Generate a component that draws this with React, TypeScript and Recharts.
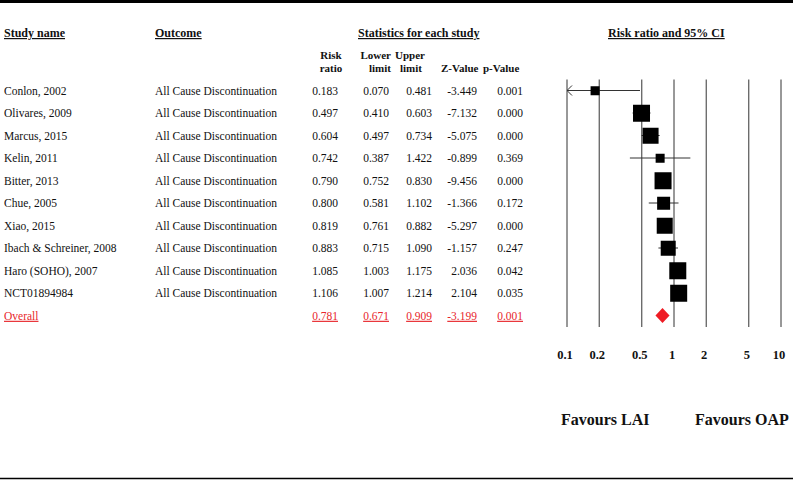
import React from 'react';
import {
  ComposedChart,
  Bar,
  Line,
  XAxis,
  YAxis,
  ReferenceLine,
} from 'recharts';

const studies = [
  'Conlon, 2002',
  'Olivares, 2009',
  'Marcus, 2015',
  'Kelin, 2011',
  'Bitter, 2013',
  'Chue, 2005',
  'Xiao, 2015',
  'Ibach & Schreiner, 2008',
  'Haro (SOHO), 2007',
  'NCT01894984',
  'Overall',
];
const outcomes = [
  'All Cause Discontinuation',
  'All Cause Discontinuation',
  'All Cause Discontinuation',
  'All Cause Discontinuation',
  'All Cause Discontinuation',
  'All Cause Discontinuation',
  'All Cause Discontinuation',
  'All Cause Discontinuation',
  'All Cause Discontinuation',
  'All Cause Discontinuation',
  '',
];
const riskRatio = [0.183, 0.497, 0.604, 0.742, 0.79, 0.8, 0.819, 0.883, 1.085, 1.106, 0.781];
const lowerLimit = [0.07, 0.41, 0.497, 0.387, 0.752, 0.581, 0.761, 0.715, 1.003, 1.007, 0.671];
const upperLimit = [0.481, 0.603, 0.734, 1.422, 0.83, 1.102, 0.882, 1.09, 1.175, 1.214, 0.909];
const zValue = [-3.449, -7.132, -5.075, -0.899, -9.456, -1.366, -5.297, -1.157, 2.036, 2.104, -3.199];
const pValue = [0.001, 0.0, 0.0, 0.369, 0.0, 0.172, 0.0, 0.247, 0.042, 0.035, 0.001];
// relative study weight (box size), overall row has none
const studyWeight = [9, 17, 16, 9, 17, 13, 16, 15, 17, 17, null];
const axisTicks = [0.1, 0.2, 0.5, 1, 2, 5, 10];

const MIN_X = 0.1;
const MAX_X = 10;
const FONT = '"Liberation Serif", "Times New Roman", serif';
const RED = '#e8262b';

const rows = studies.map((study, i) => {
  const isOverall = study === 'Overall';
  return {
    study,
    outcome: outcomes[i],
    rr: riskRatio[i],
    lower: lowerLimit[i],
    upper: upperLimit[i],
    z: zValue[i],
    p: pValue[i],
    isOverall,
    weight: studyWeight[i],
    square: isOverall ? null : riskRatio[i],
    clipped: lowerLimit[i] < MIN_X,
    ci: [Math.max(lowerLimit[i], MIN_X), Math.min(upperLimit[i], MAX_X)],
  };
});

// table columns drawn beside each category tick
const RowTick = (props: any) => {
  const { y, payload } = props;
  const row = rows.find((r) => r.study === payload.value);
  if (!row) return null;
  const color = row.isOverall ? RED : '#111';
  const deco = row.isOverall ? 'underline' : 'none';
  const common = {
    y,
    dy: '0.35em',
    fontSize: 11.5,
    fontFamily: FONT,
    fill: color,
    textDecoration: deco,
  };
  return (
    <g>
      <text x={4} {...common}>{row.study}</text>
      {row.outcome && <text x={155} {...common}>{row.outcome}</text>}
      <text x={338} textAnchor="end" {...common}>{row.rr.toFixed(3)}</text>
      <text x={389} textAnchor="end" {...common}>{row.lower.toFixed(3)}</text>
      <text x={432} textAnchor="end" {...common}>{row.upper.toFixed(3)}</text>
      <text x={477} textAnchor="end" {...common}>{row.z.toFixed(3)}</text>
      <text x={523} textAnchor="end" {...common}>{row.p.toFixed(3)}</text>
    </g>
  );
};

const ScaleTick = (props: any) => {
  const { x, y, payload } = props;
  return (
    <text
      x={x - 2}
      y={y + 24}
      textAnchor="middle"
      fontSize={12.5}
      fontWeight="bold"
      fontFamily={FONT}
      fill="#111"
    >
      {String(payload.value)}
    </text>
  );
};

const CiShape = (props: any) => {
  const { x, y, width, height, payload } = props;
  const cy = y + height / 2;
  if (payload.isOverall) {
    const pts = `${x},${cy} ${x + width / 2},${cy - 7.5} ${x + width},${cy} ${x + width / 2},${cy + 7.5}`;
    return <polygon points={pts} fill="#ee1c24" />;
  }
  return (
    <g>
      <line x1={x} x2={x + width} y1={cy} y2={cy} stroke="#333" strokeWidth={1} />
      {payload.clipped && (
        <polyline
          points={`${x + 5},${cy - 5} ${x},${cy} ${x + 5},${cy + 5}`}
          fill="none"
          stroke="#333"
          strokeWidth={1}
        />
      )}
    </g>
  );
};

const SquareDot = (props: any) => {
  const { cx, cy, payload, index } = props;
  if (cx == null || cy == null || payload.weight == null) return <g key={`sq-${index}`} />;
  const s = payload.weight;
  return <rect key={`sq-${index}`} x={cx - s / 2} y={cy - s / 2} width={s} height={s} fill="#000" />;
};

const headerStyle = {
  fontSize: 12,
  fontWeight: 'bold' as const,
  fontFamily: FONT,
  fill: '#111',
};

const subStyle = {
  fontSize: 11,
  fontWeight: 'bold' as const,
  fontFamily: FONT,
  fill: '#111',
};

const App: React.FC = () => {
  return (
    <div style={{ position: 'absolute', left: 0, top: 0, width: 793, height: 481, background: '#fff' }}>
      <ComposedChart
        width={793}
        height={481}
        data={rows}
        layout="vertical"
        margin={{ top: 79.5, right: 12, bottom: 114, left: 0 }}
      >
        <XAxis
          type="number"
          scale="log"
          domain={[MIN_X, MAX_X]}
          ticks={axisTicks}
          allowDataOverflow
          axisLine={false}
          tickLine={false}
          tick={<ScaleTick />}
          height={40}
        />
        <YAxis
          type="category"
          dataKey="study"
          width={567}
          axisLine={false}
          tickLine={false}
          interval={0}
          tick={<RowTick />}
        />
        {axisTicks.map((t) => (
          <ReferenceLine key={t} x={t} stroke="#333" strokeWidth={1} />
        ))}
        <Bar dataKey="ci" barSize={14} shape={<CiShape />} isAnimationActive={false} />
        <Line
          dataKey="square"
          stroke="none"
          dot={SquareDot}
          activeDot={false}
          isAnimationActive={false}
        />
      </ComposedChart>
      <svg
        width={793}
        height={481}
        style={{ position: 'absolute', left: 0, top: 0, pointerEvents: 'none' }}
      >
        <line x1={0} x2={793} y1={1.5} y2={1.5} stroke="#000" strokeWidth={3} />
        <line x1={0} x2={793} y1={478.5} y2={478.5} stroke="#000" strokeWidth={1.5} />
        <text x={4} y={37} {...headerStyle} textDecoration="underline">Study name</text>
        <text x={155} y={37} {...headerStyle} textDecoration="underline">Outcome</text>
        <text x={358} y={37} {...headerStyle} textDecoration="underline">Statistics for each study</text>
        <text x={608} y={37} {...headerStyle} textDecoration="underline">Risk ratio and 95% CI</text>
        <text x={331} y={59} textAnchor="middle" {...subStyle}>Risk</text>
        <text x={331} y={72} textAnchor="middle" {...subStyle}>ratio</text>
        <text x={391} y={59} textAnchor="end" {...subStyle}>Lower</text>
        <text x={391} y={72} textAnchor="end" {...subStyle}>limit</text>
        <text x={395} y={59} {...subStyle}>Upper</text>
        <text x={400} y={72} {...subStyle}>limit</text>
        <text x={441} y={72} {...subStyle}>Z-Value</text>
        <text x={483} y={72} {...subStyle}>p-Value</text>
        <text x={561} y={425} fontSize={16} fontWeight="bold" fontFamily={FONT} fill="#111">Favours LAI</text>
        <text x={695} y={425} fontSize={16} fontWeight="bold" fontFamily={FONT} fill="#111">Favours OAP</text>
      </svg>
    </div>
  );
};

export default App;
